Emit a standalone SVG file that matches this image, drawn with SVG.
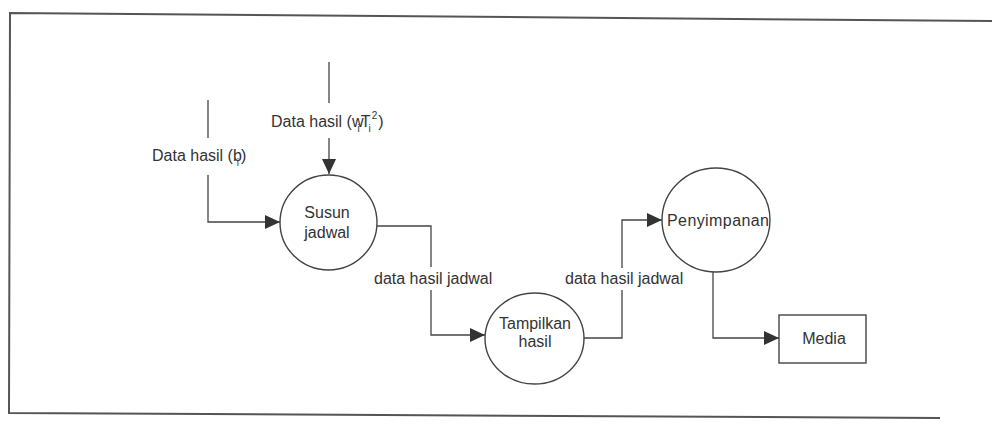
<svg xmlns="http://www.w3.org/2000/svg" width="992" height="424" viewBox="0 0 992 424">
<style>
.ln{fill:none;stroke:#444;stroke-width:1.3}
.nd{fill:#fff;stroke:#444;stroke-width:1.4}
.tx{font-family:"Liberation Sans",Arial,sans-serif;font-size:16px;fill:#333}
.sb{font-size:10px}
.frame{fill:none;stroke:#555;stroke-width:2}
</style>
<defs>
<marker id="arr" markerUnits="userSpaceOnUse" markerWidth="16" markerHeight="14" refX="15" refY="7" orient="auto">
<path d="M0,0 L15,7 L0,14 Z" fill="#333"/>
</marker>
</defs>
<rect width="992" height="424" fill="#fff"/>
<g id="frame">
<polyline class="frame" points="992,21 10,13 9,413 940,418"/>
</g>
<g id="connectors">
<line class="ln" x1="208" y1="100" x2="208" y2="138"/>
<polyline class="ln" points="208,175 208,222 280,222" marker-end="url(#arr)"/>
<line class="ln" x1="329" y1="62" x2="329" y2="103"/>
<line class="ln" x1="329" y1="138" x2="329" y2="174" marker-end="url(#arr)"/>
<polyline class="ln" points="377,226 431,226 431,267"/>
<polyline class="ln" points="431,290 431,335 485,335" marker-end="url(#arr)"/>
<polyline class="ln" points="584,338 622,338 622,290"/>
<polyline class="ln" points="622,268 622,220 662,220" marker-end="url(#arr)"/>
<polyline class="ln" points="713,272 713,338 779,338" marker-end="url(#arr)"/>
</g>
<g id="label-bi">
<text class="tx" x="152" y="161">Data hasil (b<tspan class="sb" dx="-5" dy="5">i</tspan><tspan dx="2" dy="-5">)</tspan></text>
</g>
<g id="label-wt">
<text class="tx" x="271" y="127">Data hasil (w<tspan class="sb" dx="-6" dy="5">i</tspan><tspan dx="1" dy="-5">T</tspan><tspan class="sb" dx="-2" dy="5">i</tspan><tspan class="sb" dx="1" dy="-13">2</tspan><tspan dx="1" dy="8">)</tspan></text>
</g>
<g id="label-jadwal1">
<text class="tx" x="374" y="284">data hasil jadwal</text>
</g>
<g id="label-jadwal2">
<text class="tx" x="565" y="284">data hasil jadwal</text>
</g>
<g id="susun-jadwal">
<ellipse class="nd" cx="328.5" cy="222.5" rx="48.5" ry="47.5"/>
<text class="tx" x="327" y="218" text-anchor="middle">Susun</text>
<text class="tx" x="327" y="238" text-anchor="middle">jadwal</text>
</g>
<g id="tampilkan-hasil">
<ellipse class="nd" cx="534.5" cy="338.5" rx="49.5" ry="45.5"/>
<text class="tx" x="535" y="329" text-anchor="middle">Tampilkan</text>
<text class="tx" x="535" y="347" text-anchor="middle">hasil</text>
</g>
<g id="penyimpanan">
<ellipse class="nd" cx="716" cy="220" rx="54" ry="52"/>
<text class="tx" x="667" y="226" textLength="102">Penyimpanan</text>
</g>
<g id="media">
<rect class="nd" x="779" y="315" width="87" height="48"/>
<text class="tx" x="824" y="344" text-anchor="middle">Media</text>
</g>
</svg>
